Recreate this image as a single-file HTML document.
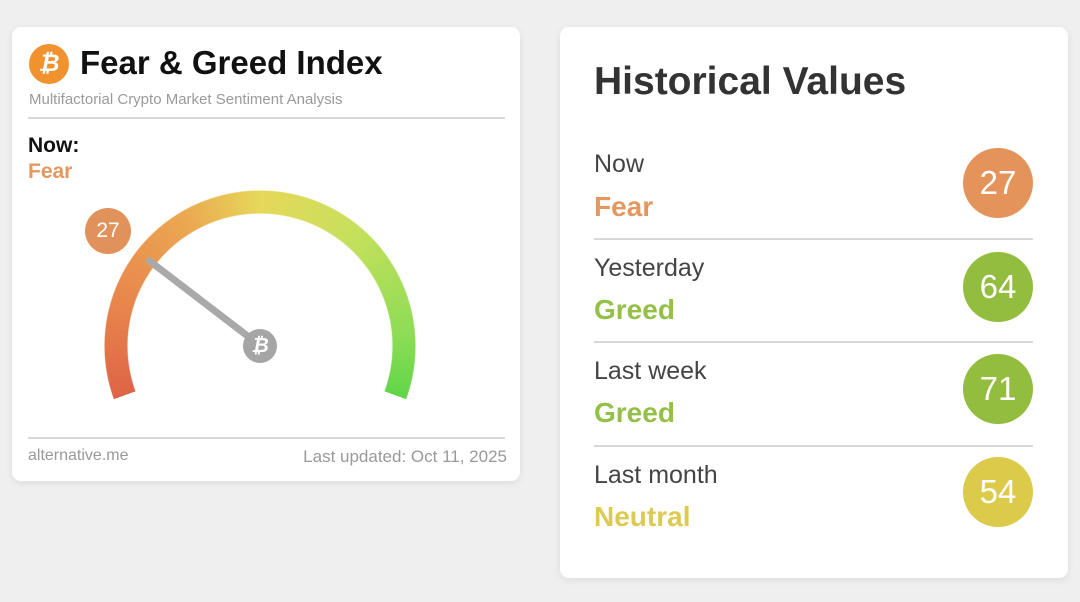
<!DOCTYPE html>
<html><head><meta charset="utf-8"><style>
body{margin:0;width:1080px;height:602px;background:#efefef;font-family:"Liberation Sans",sans-serif;position:relative;overflow:hidden}
.card{position:absolute;background:#fff;border-radius:9px;box-shadow:0 2px 8px rgba(0,0,0,.08)}
.a{position:absolute;white-space:nowrap}
.gauge{position:absolute;left:104px;top:190px;width:312px;height:312px;border-radius:50%;
background:conic-gradient(from 0deg,#e6d85a 0deg,#c6e05c 40deg,#8edc56 85deg,#62d64a 110deg,transparent 110deg,transparent 250deg,#de6446 250deg,#e8844c 285deg,#eba851 330deg,#e6d85a 360deg);
-webkit-mask:radial-gradient(circle,transparent 132px,#000 133px,#000 155px,transparent 156px);mask:radial-gradient(circle,transparent 132px,#000 133px,#000 155px,transparent 156px)}
.c{position:absolute;border-radius:50%;color:#fff;text-align:center}
.hr{position:absolute;height:2px;background:#d8d8d8}
.lab{position:absolute;left:594px;font-size:25px;color:#444}
.val{position:absolute;left:594px;font-size:28px;font-weight:bold}
</style></head><body>
<div class="card" style="left:12px;top:27px;width:508px;height:454px"></div>
<div class="c" style="left:29px;top:44px;width:40px;height:40px;background:#f0922e;font-size:24px;font-weight:bold;line-height:40px;font-style:italic">₿</div>
<div class="a" style="left:80px;top:44px;font-size:33px;font-weight:bold;color:#111">Fear &amp; Greed Index</div>
<div class="a" style="left:29px;top:91px;font-size:15px;color:#9a9a9a">Multifactorial Crypto Market Sentiment Analysis</div>
<div class="hr" style="left:28px;top:117px;width:477px"></div>
<div class="a" style="left:28px;top:134px;font-size:21px;font-weight:bold;color:#111">Now:</div>
<div class="a" style="left:28px;top:160px;font-size:21px;font-weight:bold;color:#e4975e">Fear</div>
<div class="gauge"></div>
<svg class="a" style="left:0;top:0" width="540" height="490"><line x1="147" y1="259" x2="258" y2="344" stroke="#a9a9a9" stroke-width="7"/></svg>
<div class="c" style="left:243px;top:329px;width:34px;height:34px;background:#a5a5a5;font-size:20px;line-height:34px;font-weight:bold;font-style:italic">₿</div>
<div class="c" style="left:85px;top:208px;width:46px;height:46px;background:#e0925a;font-size:21px;line-height:46px">27</div>
<div class="hr" style="left:28px;top:437px;width:477px"></div>
<div class="a" style="left:28px;top:447px;font-size:16px;color:#999">alternative.me</div>
<div class="a" style="right:573px;top:447px;font-size:17px;color:#999">Last updated: Oct 11, 2025</div>

<div class="card" style="left:560px;top:27px;width:508px;height:551px"></div>
<div class="a" style="left:594px;top:60px;font-size:39px;font-weight:bold;color:#333">Historical Values</div>
<div class="lab" style="top:150px">Now</div><div class="val" style="top:191px;color:#e4975e">Fear</div>
<div class="c" style="left:963px;top:148px;width:70px;height:70px;background:#e4935a;font-size:33px;line-height:70px">27</div>
<div class="hr" style="left:594px;top:238px;width:439px"></div>
<div class="lab" style="top:254px">Yesterday</div><div class="val" style="top:294px;color:#94c047">Greed</div>
<div class="c" style="left:963px;top:252px;width:70px;height:70px;background:#93bd3e;font-size:33px;line-height:70px">64</div>
<div class="hr" style="left:594px;top:341px;width:439px"></div>
<div class="lab" style="top:357px">Last week</div><div class="val" style="top:397px;color:#94c047">Greed</div>
<div class="c" style="left:963px;top:354px;width:70px;height:70px;background:#93bd3e;font-size:33px;line-height:70px">71</div>
<div class="hr" style="left:594px;top:445px;width:439px"></div>
<div class="lab" style="top:461px">Last month</div><div class="val" style="top:501px;color:#dccb50">Neutral</div>
<div class="c" style="left:963px;top:457px;width:70px;height:70px;background:#dccb4a;font-size:33px;line-height:70px">54</div>
</body></html>
